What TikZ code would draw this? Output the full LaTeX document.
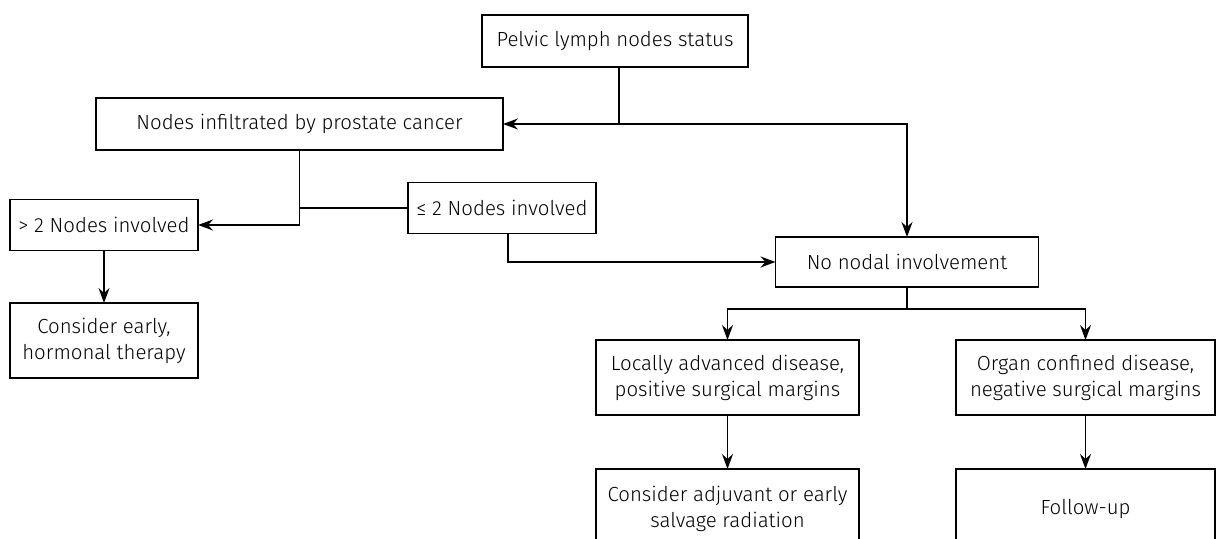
\documentclass[tikz,border=0pt]{standalone}
\usepackage{fontspec}
\setmainfont{Fira Sans Light}
\usetikzlibrary{arrows.meta}

\begin{document}
\begin{tikzpicture}[x=0.5pt,y=-0.5pt,
        every node/.style={draw, line width=0.8pt, align=center, inner sep=0pt, outer sep=0pt, font=\fontsize{10.2}{13}\selectfont},
        conn/.style={line width=0.8pt, -{Stealth[length=7.5pt,width=5.5pt,inset=2.5pt]}},
        link/.style={line width=0.8pt}]
            \useasboundingbox (0,0) rectangle (1216,539);
            \clip (0,0) rectangle (1216,539);
            \node[minimum width=133pt, minimum height=26pt] (status) at (615,41) {Pelvic lymph nodes status};
            \node[minimum width=203.5pt, minimum height=26pt] (infil) at (299.5,124) {Nodes infiltrated by prostate cancer};
            \node[minimum width=94pt, minimum height=25.5pt] (lesstwo) at (502,208) {≤ 2 Nodes involved};
            \node[minimum width=94pt, minimum height=25.5pt] (moretwo) at (104,225) {> 2 Nodes involved};
            \node[minimum width=94pt, minimum height=37.5pt] (hormonal) at (104,340.5) {Consider early,\\hormonal therapy};
            \node[minimum width=131.5pt, minimum height=25pt] (nonodal) at (907,262) {No nodal involvement};
            \node[minimum width=131.5pt, minimum height=37.5pt] (locally) at (727.5,377.5) {Locally advanced disease,\\positive surgical margins};
            \node[minimum width=129.5pt, minimum height=37.5pt] (organ) at (1085.5,377.5) {Organ confined disease,\\negative surgical margins};
            \node[minimum width=131.5pt, minimum height=40pt] (adjuvant) at (727.5,509) {Consider adjuvant or early\\salvage radiation};
            \node[minimum width=129.5pt, minimum height=40pt] (followup) at (1085.5,509) {Follow-up};
            \coordinate (split) at ([xshift=2pt]status.south |- infil.east);
            \draw[conn] ([xshift=2pt]status.south) -- (split) -- (infil.east);
            \draw[conn] (split) -| (nonodal.north);
            \draw[conn] (infil.south) |- (moretwo.east);
            \draw[link] (lesstwo.west) -- (infil.south |- lesstwo.west);
            \draw[conn] ([xshift=3pt]lesstwo.south) |- (nonodal.west);
            \draw[conn] (moretwo.south) -- (hormonal.north);
            \draw[conn] (nonodal.south) -- ++(0,22) -| (locally.north);
            \draw[conn] (nonodal.south) -- ++(0,22) -| (organ.north);
            \draw[conn] (locally.south) -- (adjuvant.north);
            \draw[conn] (organ.south) -- (followup.north);
        \end{tikzpicture}
\end{document}
